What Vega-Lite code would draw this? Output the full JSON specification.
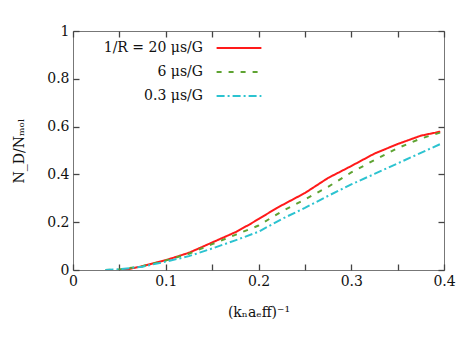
{
  "$schema": "https://vega.github.io/schema/vega-lite/v6.json",
  "autosize": "none",
  "width": 371,
  "height": 239,
  "padding": {"left": 73, "top": 31, "right": 25, "bottom": 72},
  "background": "white",
  "config": {
    "view": {"stroke": "#777", "strokeWidth": 1},
    "font": "DejaVu Serif",
    "axis": {"labelFont": "DejaVu Serif", "titleFont": "DejaVu Serif", "labelFontSize": 14, "titleFontSize": 14, "labelColor": "#111", "titleColor": "#111", "titleFontWeight": "normal", "grid": false, "domain": false, "ticks": true, "tickColor": "#444", "tickWidth": 1.3, "tickSize": -6, "zindex": 1}
  },
  "data": {"values": [
    {"x": 0.05, "y": 0.0, "s": "20"},
    {"x": 0.06, "y": 0.004, "s": "20"},
    {"x": 0.075, "y": 0.016, "s": "20"},
    {"x": 0.1, "y": 0.041, "s": "20"},
    {"x": 0.125, "y": 0.072, "s": "20"},
    {"x": 0.15, "y": 0.115, "s": "20"},
    {"x": 0.175, "y": 0.158, "s": "20"},
    {"x": 0.19, "y": 0.19, "s": "20"},
    {"x": 0.2, "y": 0.213, "s": "20"},
    {"x": 0.22, "y": 0.26, "s": "20"},
    {"x": 0.25, "y": 0.322, "s": "20"},
    {"x": 0.275, "y": 0.385, "s": "20"},
    {"x": 0.3, "y": 0.435, "s": "20"},
    {"x": 0.325, "y": 0.487, "s": "20"},
    {"x": 0.35, "y": 0.527, "s": "20"},
    {"x": 0.375, "y": 0.562, "s": "20"},
    {"x": 0.396, "y": 0.579, "s": "20"},
    {"x": 0.035, "y": 0.0, "s": "6"},
    {"x": 0.05, "y": 0.002, "s": "6"},
    {"x": 0.075, "y": 0.016, "s": "6"},
    {"x": 0.1, "y": 0.04, "s": "6"},
    {"x": 0.125, "y": 0.068, "s": "6"},
    {"x": 0.15, "y": 0.108, "s": "6"},
    {"x": 0.175, "y": 0.147, "s": "6"},
    {"x": 0.2, "y": 0.186, "s": "6"},
    {"x": 0.225, "y": 0.245, "s": "6"},
    {"x": 0.25, "y": 0.295, "s": "6"},
    {"x": 0.275, "y": 0.348, "s": "6"},
    {"x": 0.3, "y": 0.408, "s": "6"},
    {"x": 0.325, "y": 0.46, "s": "6"},
    {"x": 0.35, "y": 0.51, "s": "6"},
    {"x": 0.375, "y": 0.55, "s": "6"},
    {"x": 0.396, "y": 0.575, "s": "6"},
    {"x": 0.035, "y": 0.0, "s": "0.3"},
    {"x": 0.05, "y": 0.003, "s": "0.3"},
    {"x": 0.075, "y": 0.014, "s": "0.3"},
    {"x": 0.1, "y": 0.035, "s": "0.3"},
    {"x": 0.125, "y": 0.058, "s": "0.3"},
    {"x": 0.15, "y": 0.09, "s": "0.3"},
    {"x": 0.175, "y": 0.124, "s": "0.3"},
    {"x": 0.2, "y": 0.16, "s": "0.3"},
    {"x": 0.225, "y": 0.213, "s": "0.3"},
    {"x": 0.25, "y": 0.26, "s": "0.3"},
    {"x": 0.275, "y": 0.31, "s": "0.3"},
    {"x": 0.3, "y": 0.358, "s": "0.3"},
    {"x": 0.325, "y": 0.402, "s": "0.3"},
    {"x": 0.35, "y": 0.446, "s": "0.3"},
    {"x": 0.375, "y": 0.49, "s": "0.3"},
    {"x": 0.396, "y": 0.527, "s": "0.3"}
  ]},
  "layer": [
    {
      "mark": {"type": "line", "strokeWidth": 2, "clip": true},
      "encoding": {
        "x": {"field": "x", "type": "quantitative", "scale": {"domain": [0, 0.4], "nice": false},
          "axis": {"values": [0, 0.05, 0.1, 0.15, 0.2, 0.25, 0.3, 0.35, 0.4], "labelExpr": "datum.value * 10 % 1 == 0 ? format(datum.value, '~g') : ''", "labelPadding": 10, "title": "(kₙaₑff)⁻¹", "titlePadding": 17, "labelFlush": false}},
        "y": {"field": "y", "type": "quantitative", "scale": {"domain": [0, 1], "nice": false},
          "axis": {"values": [0, 0.2, 0.4, 0.6, 0.8, 1], "labelExpr": "format(datum.value, '~g')", "labelPadding": 10, "title": "N_D/Nₘₒₗ", "titlePadding": 20, "labelFlush": false}},
        "color": {"field": "s", "type": "nominal",
          "scale": {"domain": ["20", "6", "0.3"], "range": ["#ff1a1a", "#5ea332", "#2cc3d0"]},
          "legend": {"orient": "none", "legendX": 151, "legendY": 2, "title": null,
            "symbolType": "M-1.6,0H1.6", "symbolSize": 784, "symbolStrokeWidth": 2,
            "labelAlign": "right", "labelOffset": -51, "labelFontSize": 14, "labelFont": "DejaVu Serif", "labelColor": "#111",
            "rowPadding": 2,
            "labelExpr": "datum.label == '20' ? '1/R = 20 μs/G' : datum.label + ' μs/G'"}},
        "strokeDash": {"field": "s", "type": "nominal",
          "scale": {"domain": ["20", "6", "0.3"], "range": [[1, 0], [5, 7], [8, 3, 2, 3]]},
          "legend": null}
      }
    },
    {
      "mark": {"type": "line", "opacity": 0},
      "encoding": {
        "x": {"field": "x", "type": "quantitative", "axis": {"orient": "top", "values": [0, 0.05, 0.1, 0.15, 0.2, 0.25, 0.3, 0.35, 0.4], "labels": false, "title": null}},
        "y": {"field": "y", "type": "quantitative", "axis": {"orient": "right", "values": [0, 0.2, 0.4, 0.6, 0.8, 1], "labels": false, "title": null}},
        "detail": {"field": "s", "type": "nominal"}
      }
    }
  ],
  "resolve": {"axis": {"x": "independent", "y": "independent"}}
}
